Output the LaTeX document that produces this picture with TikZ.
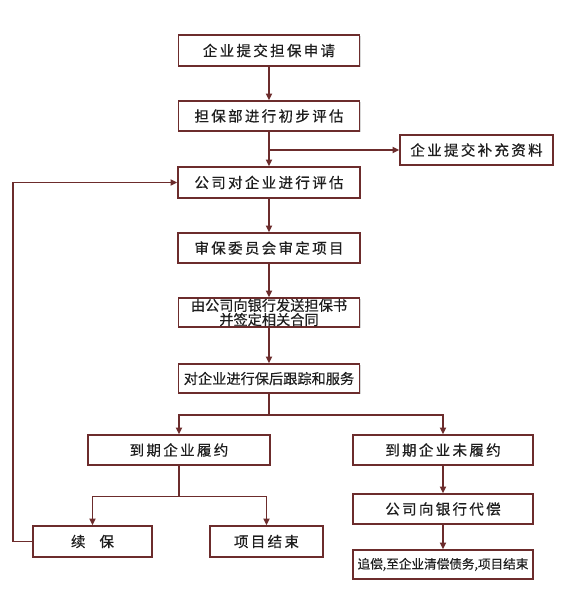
\documentclass[tikz,border=0pt]{standalone}
\usepackage{fontspec}
\newfontfamily\cjk[LetterSpace=16,FakeBold=0.5]{Noto Sans CJK SC}
\newfontfamily\cjksmall[FakeBold=0.4]{Noto Sans CJK SC}
\usetikzlibrary{arrows.meta,shadows,calc}
\definecolor{maroon}{RGB}{108,44,44}
\definecolor{txt}{RGB}{30,30,30}
\tikzset{
  box/.style={draw=maroon, line width=1.7pt, fill=white, inner sep=0pt,
    text=txt, font=\cjk\fontsize{14.5}{16}\selectfont, align=center,
    drop shadow={shadow xshift=1.2pt, shadow yshift=-1.2pt, fill=black!25, opacity=0.6}},
  smallbox/.style={box, font=\cjksmall\fontsize{14.2}{11.8}\selectfont},
  tinybox/.style={box, font=\cjksmall\fontsize{12.6}{12}\selectfont},
  conn/.style={draw=maroon, line width=1.6pt},
  arr/.style={conn, -{Triangle[length=6.5pt,width=6pt]}}
}
\begin{document}
\begin{tikzpicture}[x=1pt,y=-1pt]
\useasboundingbox[fill=white] (0,0) rectangle (564,603);
\node[box, minimum width=181pt, minimum height=31pt] (b1) at (269,50.5) {企业提交担保申请};
\node[box, minimum width=181pt, minimum height=30pt] (b2) at (269,116) {担保部进行初步评估};
\node[box, minimum width=153pt, minimum height=30pt] (side) at (476.5,150) {企业提交补充资料};
\node[box, minimum width=182pt, minimum height=31pt] (b3) at (269,182.5) {公司对企业进行评估};
\node[box, minimum width=182pt, minimum height=30pt] (b4) at (269,248) {审保委员会审定项目};
\node[smallbox, minimum width=181pt, minimum height=29pt] (b5) at (269,312.5) {由公司向银行发送担保书\\并签定相关合同};
\node[smallbox, minimum width=181pt, minimum height=29pt] (b6) at (269,378.5) {对企业进行保后跟踪和服务};
\node[box, minimum width=182pt, minimum height=30pt] (b7) at (179,450) {到期企业履约};
\node[box, minimum width=180pt, minimum height=30pt] (b8) at (443,450) {到期企业未履约};
\node[box, minimum width=119pt, minimum height=31pt] (b9) at (92.5,541.5) {续\hspace{14pt}保};
\node[box, minimum width=113pt, minimum height=31pt] (b10) at (266.5,541.5) {项目结束};
\node[box, minimum width=180pt, minimum height=30pt] (b11) at (443,509) {公司向银行代偿};
\node[tinybox, minimum width=180pt, minimum height=29pt] (b12) at (443,564.5) {追偿,至企业清偿债务,项目结束};

\coordinate (br1) at (b2.south |- 0,150);
\coordinate (s1) at (b6.south |- 0,415);
\coordinate (s2) at (b7.south |- 0,496.5);
\coordinate (lp) at (13,541.5);

\draw[arr] (b1.south) -- (b2.north);
\draw[arr] (b2.south) -- (b3.north);
\draw[arr] (br1) -- (side.west);
\draw[arr] (b3.south) -- (b4.north);
\draw[arr] (b4.south) -- (b5.north);
\draw[arr] (b5.south) -- (b6.north);
\draw[conn] (b6.south) -- (s1);
\draw[arr] (s1) -| (b7.north);
\draw[arr] (s1) -| (b8.north);
\draw[conn] (b7.south) -- (s2);
\draw[arr] (s2) -| (b9.north);
\draw[arr] (s2) -| (b10.north);
\draw[arr] (b8.south) -- (b11.north);
\draw[arr] (b11.south) -- (b12.north);
\draw[arr] (b9.west) -- (lp) |- (b3.west);
\end{tikzpicture}
\end{document}
